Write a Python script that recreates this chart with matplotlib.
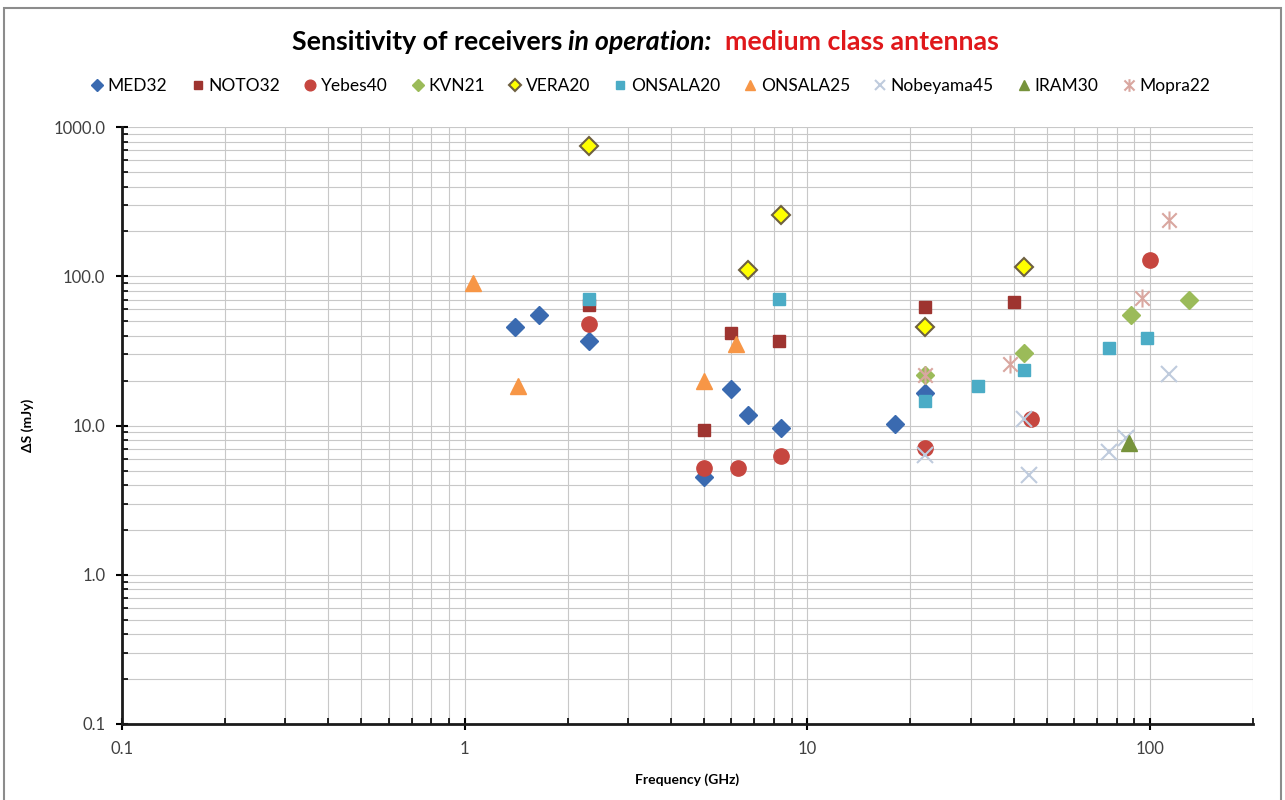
import matplotlib.pyplot as plt
import numpy as np
from matplotlib.path import Path
from matplotlib.patches import Rectangle
from matplotlib.offsetbox import TextArea, HPacker, AnnotationBbox
from matplotlib.ticker import FixedLocator, LogLocator, NullFormatter

plt.rcParams['font.family'] = ['Lato', 'DejaVu Sans']

# frequency (GHz) and sensitivity (mJy) per station
med32_f = [1.4, 1.65, 2.3, 5.0, 6.0, 6.7, 8.4, 18, 22]
med32_s = [46, 55, 37, 4.5, 17.5, 11.7, 9.7, 10.2, 16.5]
noto32_f = [2.3, 5.0, 6.0, 8.3, 22, 40]
noto32_s = [64, 9.4, 42, 37, 62, 67]
yebes40_f = [2.3, 5.0, 6.3, 8.4, 22, 45, 100]
yebes40_s = [48, 5.2, 5.2, 6.3, 7.1, 11.1, 128]
kvn21_f = [22, 43, 88, 130]
kvn21_s = [22, 30.5, 55, 69]
vera20_f = [2.3, 6.7, 8.4, 22, 43]
vera20_s = [750, 110, 256, 45.5, 115]
onsala20_f = [2.3, 8.3, 22, 31.5, 43, 76, 98]
onsala20_s = [71, 71, 14.7, 18.5, 23.5, 33, 38.5]
onsala25_f = [1.06, 1.43, 5.0, 6.2]
onsala25_s = [91, 18.3, 20, 35.5]
nobeyama45_f = [22, 43, 44.5, 76, 85, 114]
nobeyama45_s = [6.4, 11, 4.7, 6.7, 8.3, 22.3]
iram30_f = [87]
iram30_s = [7.7]
mopra22_f = [22, 39, 95, 114]
mopra22_s = [22, 26, 72, 237]

# asterisk marker: an x plus a vertical bar
star = Path([(0, -1), (0, 1), (-0.8, -0.8), (0.8, 0.8), (-0.8, 0.8), (0.8, -0.8)],
            [Path.MOVETO, Path.LINETO] * 3)

fig = plt.figure(figsize=(12.85, 8), dpi=100)
fig.patches.append(Rectangle((4 / 1285, -0.01), 1277 / 1285, 0.9999 - 8 / 800 + 0.01,
                             transform=fig.transFigure, fill=False,
                             edgecolor='#8C8C8C', linewidth=1.5))
ax = fig.add_axes([0.0949, 0.095, 0.8802, 0.746])

ax.plot(med32_f, med32_s, ls='none', marker='D', ms=9, color='#3A6AB0', label='MED32')
ax.plot(noto32_f, noto32_s, ls='none', marker='s', ms=9, color='#9E3430', label='NOTO32')
ax.plot(yebes40_f, yebes40_s, ls='none', marker='o', ms=11, color='#C6463F', label='Yebes40')
ax.plot(kvn21_f, kvn21_s, ls='none', marker='D', ms=9, color='#9BBB59', label='KVN21')
ax.plot(vera20_f, vera20_s, ls='none', marker='D', ms=9, color='#FFFF00',
        markeredgecolor='#6E6040', markeredgewidth=1.5, label='VERA20')
ax.plot(onsala20_f, onsala20_s, ls='none', marker='s', ms=9, color='#4BACC6', label='ONSALA20')
ax.plot(onsala25_f, onsala25_s, ls='none', marker='^', ms=11, color='#F79646', label='ONSALA25')
ax.plot(nobeyama45_f, nobeyama45_s, ls='none', marker='x', ms=11, mew=1.5,
        color='#BFCBDD', label='Nobeyama45')
ax.plot(iram30_f, iram30_s, ls='none', marker='^', ms=11, color='#77933C', label='IRAM30')
ax.plot(mopra22_f, mopra22_s, ls='none', marker=star, ms=13, mew=1.5,
        color='#D9A7A0', label='Mopra22')

ax.set_xscale('log')
ax.set_yscale('log')
ax.set_xlim(0.1, 200)
ax.set_ylim(0.1, 1000)

ax.xaxis.set_major_locator(FixedLocator([0.1, 1, 10, 100]))
ax.set_xticklabels(['0.1', '1', '10', '100'])
ax.xaxis.set_minor_locator(LogLocator(base=10, subs=np.arange(2, 10)))
ax.xaxis.set_minor_formatter(NullFormatter())
ax.yaxis.set_major_locator(FixedLocator([0.1, 1, 10, 100, 1000]))
ax.set_yticklabels(['0.1', '1.0', '10.0', '100.0', '1000.0'])
ax.yaxis.set_minor_locator(LogLocator(base=10, subs=np.arange(2, 10)))
ax.yaxis.set_minor_formatter(NullFormatter())

ax.grid(True, which='both', color='#C8C8C8', linewidth=0.8)
ax.set_axisbelow(True)
for side in ['top', 'right']:
    ax.spines[side].set_visible(False)
for side in ['left', 'bottom']:
    ax.spines[side].set_linewidth(2)
    ax.spines[side].set_color('#1A1A1A')
ax.tick_params(which='major', direction='inout', length=8, width=1.5,
               labelsize=12, labelcolor='#404040', pad=8)
ax.tick_params(which='minor', direction='in', length=4, width=1.2)

ax.set_xlabel('Frequency (GHz)', fontsize=10, fontweight='bold', labelpad=12)
ax.set_ylabel('ΔS (mJy)', fontsize=10, fontweight='bold', labelpad=14)

fig.legend(loc='center', bbox_to_anchor=(0.506, 0.893), ncol=10, frameon=False,
           fontsize=12.5, handlelength=0.8, handletextpad=0.2, columnspacing=1.35,
           markerscale=0.7)

# title with mixed styles
parts = [
    TextArea('Sensitivity of receivers ', textprops=dict(fontsize=19.3, fontweight='bold', color='black')),
    TextArea('in operation:', textprops=dict(fontsize=19.3, fontweight='bold', style='italic', color='black')),
    TextArea('  medium class antennas', textprops=dict(fontsize=19.3, fontweight='bold', color='#E0181B')),
]
box = HPacker(children=parts, align='baseline', pad=0, sep=0)
fig.add_artist(AnnotationBbox(box, (0.502, 0.947), xycoords='figure fraction',
                              frameon=False, box_alignment=(0.5, 0.5)))

fig.savefig('out.png', dpi=100)
